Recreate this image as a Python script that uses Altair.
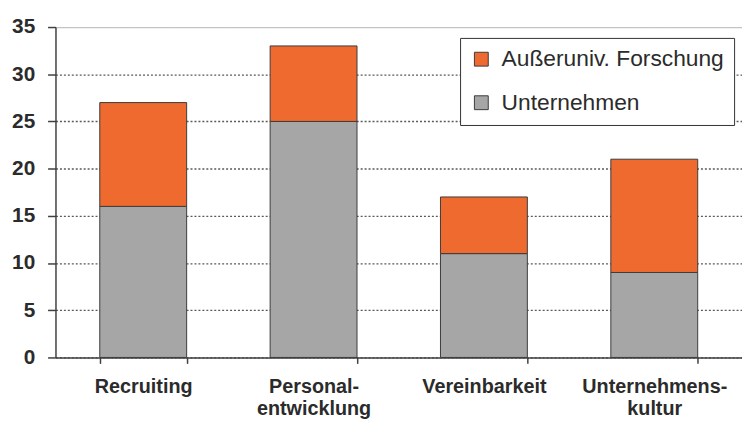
import altair as alt
import pandas as pd

categories = ["Recruiting", "Personal-|entwicklung", "Vereinbarkeit", "Unternehmens-|kultur"]
unternehmen = [16, 25, 11, 9]
forschung = [11, 8, 6, 12]
series_names = ["Außeruniv. Forschung", "Unternehmen"]
series_colors = ["#EE6A2E", "#A6A6A6"]
y_ticks = [0, 5, 10, 15, 20, 25, 30, 35]

rows = []
for c, u, f in zip(categories, unternehmen, forschung):
    rows.append({"cat": c, "series": "Unternehmen", "value": u, "ord": 0})
    rows.append({"cat": c, "series": "Außeruniv. Forschung", "value": f, "ord": 1})
df = pd.DataFrame(rows)

FONT = "Liberation Sans"

bars = alt.Chart(df).mark_bar(stroke="#3c3c3c", strokeWidth=1).encode(
    x=alt.X(
        "cat:N",
        sort=categories,
        scale=alt.Scale(paddingInner=0.49, paddingOuter=0.26),
        axis=alt.Axis(
            title=None,
            labelAngle=0,
            labelExpr="split(datum.label, '|')",
            labelFont=FONT,
            labelFontSize=20,
            labelFontWeight="bold",
            labelColor="#2b2b2b",
            labelLineHeight=23,
            labelPadding=13,
            tickBand="extent",
            tickSize=6,
            tickColor="#404040",
            tickWidth=1.5,
            domainColor="#404040",
            domainWidth=1.5,
            grid=False,
        ),
    ),
    y=alt.Y(
        "value:Q",
        stack="zero",
        scale=alt.Scale(domain=[0, 35], nice=False),
        axis=alt.Axis(
            title=None,
            values=y_ticks,
            labelFont=FONT,
            labelFontSize=21,
            labelFontWeight="bold",
            labelColor="#2b2b2b",
            labelPadding=13,
            tickSize=8,
            tickColor="#404040",
            tickWidth=1.5,
            domainColor="#404040",
            domainWidth=1.5,
            grid=True,
            gridColor=alt.condition("datum.value == 35", alt.value("#c4c4c4"), alt.value("#5a5a5a")),
            gridDash=alt.condition("datum.value == 35", alt.value([1, 0]), alt.value([2, 2])),
            gridWidth=1.3,
        ),
    ),
    color=alt.Color(
        "series:N",
        scale=alt.Scale(domain=series_names, range=series_colors),
        legend=alt.Legend(
            title=None,
            orient="none",
            legendX=409,
            legendY=11,
            direction="vertical",
            symbolType="square",
            symbolSize=196,
            symbolStrokeColor="#3c3c3c",
            symbolStrokeWidth=1,
            labelFont=FONT,
            labelFontSize=23,
            labelColor="#2b2b2b",
            labelOffset=9,
            labelLimit=400,
            rowPadding=20,
            padding=10,
            strokeColor="#333333",
            fillColor="white",
        ),
    ),
    order=alt.Order("ord:Q", sort="ascending"),
)

chart = bars.properties(
    width=694,
    height=334,
    autosize=alt.AutoSizeParams(type="none"),
    padding={"left": 48, "top": 17, "right": 0, "bottom": 62},
    background="white",
).configure_view(stroke=None)

chart.save("out.html", embed_options={"renderer": "svg", "actions": False})
